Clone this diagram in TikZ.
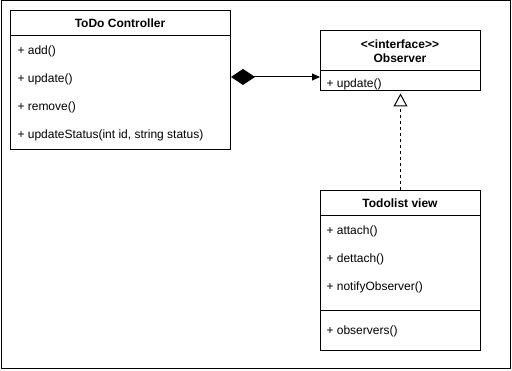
\documentclass[tikz,border=0pt]{standalone}
\usepackage{fontspec}
\setmainfont{Liberation Sans}
\usetikzlibrary{arrows.meta}
\begin{document}
\begin{tikzpicture}[x=1pt,y=-1pt,line width=1pt,
  classbox/.style={draw,fill=white,anchor=north west,inner sep=0pt},
  member/.style={anchor=west,inner sep=0pt,font=\fontsize{12}{14}\selectfont},
  ctitle/.style={inner sep=0pt,font=\bfseries\fontsize{12}{14}\selectfont},
  compose/.style={{Diamond[length=24pt,width=16pt]}-{Triangle[length=8pt,width=7pt]}},
  realize/.style={dash pattern=on 3pt off 3pt,-{Triangle[open,length=13pt,width=14pt,line width=1pt]},shorten >=2.5pt}]
\useasboundingbox (0,0) rectangle (512,371);
% outer frame
\draw (1,1) rectangle (510,369);

% ToDo Controller
\node[classbox,minimum width=220pt,minimum height=139pt] (ctrl) at (10,10) {};
\draw (10,36) -- (230,36);
\node[ctitle] (ctrlt) at (120,23.5) {ToDo Controller};
\node[member] (m1) at (17,51) {+ add()};
\node[member] (m2) at (17,79) {+ update()};
\node[member] (m3) at (17,107) {+ remove()};
\node[member] (m4) at (17,135) {+ updateStatus(int id, string status)};

% Observer interface
\node[classbox,minimum width=160pt,minimum height=60pt] (obs) at (320,30) {};
\draw (320,71) -- (480,71);
\node[ctitle] (obst1) at (400,44) {<{}<interface>{}>};
\node[ctitle] (obst2) at (400,58) {Observer};
\node[member] (o1) at (326,84) {+ update()};

% Todolist view
\node[classbox,minimum width=160pt,minimum height=160pt] (view) at (320,190) {};
\draw (320,216) -- (480,216);
\draw (320,311) -- (480,311);
\node[ctitle] (viewt) at (400,203.5) {Todolist view};
\node[member] (v1) at (326,231) {+ attach()};
\node[member] (v2) at (326,259) {+ dettach()};
\node[member] (v3) at (326,287) {+ notifyObserver()};
\node[member] (v4) at (326,331) {+ observers()};

% relations
\draw[compose] (ctrl.east |- 0,77) -- (obs.west |- 0,77);
\draw[realize] (view.north) -- (obs.south);
\end{tikzpicture}
\end{document}
